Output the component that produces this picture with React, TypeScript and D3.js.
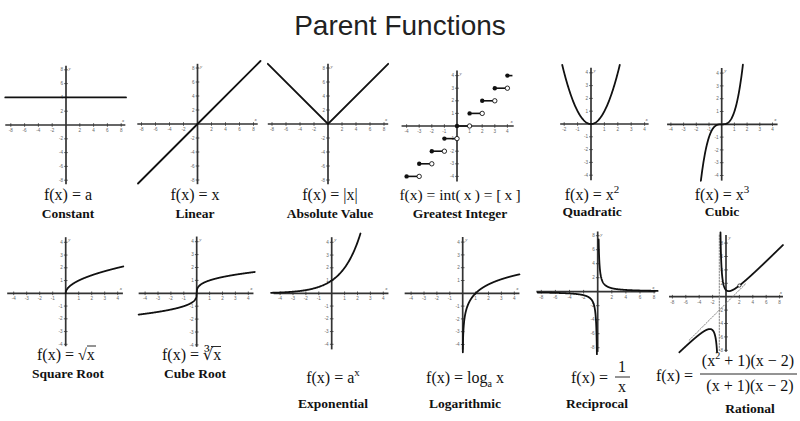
import React from 'react';
import * as d3 from 'd3';

const W = 800;
const H = 421;

// tick values used by the small graphs
const ticksWide = [-8, -6, -4, -2, 2, 4, 6, 8];
const ticksUnit = [-4, -3, -2, -1, 1, 2, 3, 4];
const ticksQuadX = [-2, -1, 1, 2, 3, 4];

// values
const constantValue = 4;
const stepLevels = [-4, -3, -2, -1, 0, 1, 2, 3];
const lastStep = 4;
const constDomain = [-8.8, 8.7];
const linearDomain = [-8.5, 9];
const absDomain = [-8.6, 8.6];
const quadDomain = [-2.15, 2.15];
const cubicDomain = [-1.64, 1.67];
const sqrtDomain = [0, 4.43];
const cbrtDomain = [-4.5, 4.5];
const expDomain = [-4.7, 2.23];
const logDomain = [0.01, 4.4];
const recipLeft = [-8.5, -0.112];
const recipRight = [0.134, 8.5];
const ratLeft = [-6.96, -1.335];
const ratRight = [-0.825, 8.5];
const ratHole = [2, 5 / 3];
const ratAsymX = -1;
const ratSlantDomain = [-5.5, 3];

type Panel = {
  ox: number; oy: number; kx: number; ky: number;
  xExt: number[]; yExt: number[];
  xTicks: number[]; yTicks: number[];
};

const panels: Panel[] = [
  { ox: 66, oy: 125, kx: 6.9, ky: 6.9, xExt: [-8.8, 8.6], yExt: [-8.6, 8.6], xTicks: ticksWide, yTicks: ticksWide },
  { ox: 197.5, oy: 124, kx: 7, ky: 7, xExt: [-8.6, 8.6], yExt: [-8.6, 8.6], xTicks: ticksWide, yTicks: ticksWide },
  { ox: 328, oy: 124, kx: 7, ky: 7, xExt: [-8.6, 8.6], yExt: [-8.6, 8.6], xTicks: ticksWide, yTicks: ticksWide },
  { ox: 457, oy: 126, kx: 12.6, ky: 12.6, xExt: [-4.4, 4.5], yExt: [-4.4, 4.4], xTicks: ticksUnit, yTicks: ticksUnit },
  { ox: 591, oy: 124, kx: 13.4, ky: 12.8, xExt: [-2.3, 4.3], yExt: [-4.4, 4.4], xTicks: ticksQuadX, yTicks: ticksUnit },
  { ox: 721.7, oy: 124.3, kx: 12.7, ky: 12.8, xExt: [-4.3, 4.4], yExt: [-4.4, 4.4], xTicks: ticksUnit, yTicks: ticksUnit },
  { ox: 65.7, oy: 293.3, kx: 13, ky: 12.75, xExt: [-4.5, 4.4], yExt: [-4.15, 4.4], xTicks: ticksUnit, yTicks: ticksUnit },
  { ox: 196.7, oy: 293.3, kx: 12.9, ky: 12.9, xExt: [-4.5, 4.4], yExt: [-4.15, 4.4], xTicks: ticksUnit, yTicks: ticksUnit },
  { ox: 331.7, oy: 293.3, kx: 12.9, ky: 12.75, xExt: [-4.5, 4.4], yExt: [-4.4, 4.4], xTicks: ticksUnit, yTicks: ticksUnit },
  { ox: 462.7, oy: 293.3, kx: 12.9, ky: 12.8, xExt: [-4.5, 4.4], yExt: [-4.4, 4.4], xTicks: ticksUnit, yTicks: ticksUnit },
  { ox: 597.7, oy: 291.7, kx: 7.05, ky: 7, xExt: [-8.7, 8.2], yExt: [-8.6, 8.6], xTicks: ticksWide, yTicks: ticksWide },
  { ox: 726, oy: 296.7, kx: 6.7, ky: 6.7, xExt: [-8.5, 8.5], yExt: [-8.2, 9.2], xTicks: ticksWide, yTicks: ticksWide },
];

const ink = '#111';
const axisColor = '#333';

function sample(f: (x: number) => number, dom: number[], n = 160): [number, number][] {
  const step = (dom[1] - dom[0]) / n;
  return d3.range(n + 1).map(i => {
    const xv = dom[0] + i * step;
    return [xv, f(xv)] as [number, number];
  });
}

function scales(p: Panel) {
  const x = d3.scaleLinear().domain([0, 1]).range([p.ox, p.ox + p.kx]);
  const y = d3.scaleLinear().domain([0, 1]).range([p.oy, p.oy - p.ky]);
  return { x, y };
}

function Axes({ p }: { p: Panel }) {
  const { x, y } = scales(p);
  const [x0, x1] = p.xExt;
  const [y0, y1] = p.yExt;
  return (
    <g>
      <line x1={x(x0)} x2={x(x1)} y1={y(0)} y2={y(0)} stroke={axisColor} strokeWidth={1.7} />
      <line x1={x(0)} x2={x(0)} y1={y(y0)} y2={y(y1)} stroke={axisColor} strokeWidth={1.7} />
      {p.xTicks.map(t => (
        <g key={'x' + t}>
          <line x1={x(t)} x2={x(t)} y1={y(0) - 1.8} y2={y(0) + 1.8} stroke={axisColor} strokeWidth={0.8} />
          <text x={x(t)} y={y(0) + 7} fontSize={4.6} textAnchor="middle" fill="#666"
            fontFamily="Liberation Sans, sans-serif">{t}</text>
        </g>
      ))}
      {p.yTicks.map(t => (
        <g key={'y' + t}>
          <line x1={x(0) - 1.8} x2={x(0) + 1.8} y1={y(t)} y2={y(t)} stroke={axisColor} strokeWidth={0.8} />
          <text x={x(0) - 3} y={y(t) + 1.6} fontSize={4.6} textAnchor="end" fill="#666"
            fontFamily="Liberation Sans, sans-serif">{t}</text>
        </g>
      ))}
      <text x={x(x1) - 1} y={y(0) - 3} fontSize={5} fill="#555" textAnchor="end"
        fontFamily="Liberation Serif, serif" fontStyle="italic">x</text>
      <text x={x(0) + 2.5} y={y(y1) + 4} fontSize={5} fill="#555"
        fontFamily="Liberation Serif, serif" fontStyle="italic">y</text>
    </g>
  );
}

function Curve({ p, pts, dash }: { p: Panel; pts: [number, number][]; dash?: string }) {
  const { x, y } = scales(p);
  const line = d3.line<[number, number]>().x(d => x(d[0])).y(d => y(d[1]));
  return <path d={line(pts) || ''} fill="none" stroke={dash ? '#777' : ink}
    strokeWidth={dash ? 0.9 : 1.8} strokeDasharray={dash} strokeLinecap="round" />;
}

function Steps({ p }: { p: Panel }) {
  const { x, y } = scales(p);
  return (
    <g>
      {stepLevels.map(k => (
        <g key={k}>
          <line x1={x(k)} x2={x(k + 1)} y1={y(k)} y2={y(k)} stroke={ink} strokeWidth={1.6} />
          <circle cx={x(k)} cy={y(k)} r={2.2} fill={ink} />
          <circle cx={x(k + 1)} cy={y(k)} r={2.2} fill="#fff" stroke={ink} strokeWidth={0.9} />
        </g>
      ))}
      <line x1={x(lastStep)} x2={x(lastStep + 0.4)} y1={y(lastStep)} y2={y(lastStep)} stroke={ink} strokeWidth={1.6} />
      <circle cx={x(lastStep)} cy={y(lastStep)} r={2.2} fill={ink} />
    </g>
  );
}

const serif = 'Liberation Serif, DejaVu Serif, serif';
const pre: React.CSSProperties = { whiteSpace: 'pre' };

function Formula({ x, y, children, anchor = 'middle', size = 16 }: { x: number; y: number; children: React.ReactNode; anchor?: string; size?: number }) {
  return <text x={x} y={y} fontSize={size} fontFamily={serif} fill={ink} textAnchor={anchor} style={pre}>{children}</text>;
}

function Label({ x, y, children }: { x: number; y: number; children: React.ReactNode }) {
  return <text x={x} y={y} fontSize={13.5} fontWeight="bold" fontFamily={serif} fill={ink} textAnchor="middle">{children}</text>;
}

export default function App() {
  const P = panels;
  const rat = scales(P[11]);
  return (
    <svg width={W} height={H} viewBox={`0 0 ${W} ${H}`} style={{ position: 'absolute', left: 0, top: 0, background: '#fff' }}>
      <rect width={W} height={H} fill="#fff" />
      <text x={400} y={35} fontSize={28} textAnchor="middle" fill="#222"
        fontFamily="Liberation Sans, Arial, sans-serif">Parent Functions</text>

      {P.map((p, i) => <Axes key={i} p={p} />)}

      {/* row 1 */}
      <Curve p={P[0]} pts={sample(() => constantValue, constDomain, 2)} />
      <Curve p={P[1]} pts={sample(v => v, linearDomain, 2)} />
      <Curve p={P[2]} pts={sample(v => Math.abs(v), absDomain, 2)} />
      <Steps p={P[3]} />
      <Curve p={P[4]} pts={sample(v => v * v, quadDomain)} />
      <Curve p={P[5]} pts={sample(v => v * v * v, cubicDomain)} />

      {/* row 2 */}
      <Curve p={P[6]} pts={sample(v => Math.sqrt(v), sqrtDomain, 300)} />
      <Curve p={P[7]} pts={sample(v => Math.cbrt(v), cbrtDomain, 400)} />
      <Curve p={P[8]} pts={sample(v => Math.pow(2, v), expDomain)} />
      <Curve p={P[9]} pts={sample(v => Math.log(v), logDomain, 600)} />
      <Curve p={P[10]} pts={sample(v => 1 / v, recipLeft, 300)} />
      <Curve p={P[10]} pts={sample(v => 1 / v, recipRight, 300)} />
      <Curve p={P[11]} pts={sample(v => v - 1, ratSlantDomain, 2)} dash="1.5,1.5" />
      <Curve p={P[11]} pts={[[ratAsymX, P[11].yExt[1]], [ratAsymX, P[11].yExt[0]]]} dash="1.5,1.5" />
      <Curve p={P[11]} pts={sample(v => (v * v + 1) / (v + 1), ratLeft, 300)} />
      <Curve p={P[11]} pts={sample(v => (v * v + 1) / (v + 1), ratRight, 300)} />
      <circle cx={rat.x(ratHole[0])} cy={rat.y(ratHole[1])} r={1.6} fill="#fff" stroke={ink} strokeWidth={0.8} />

      {/* formulas row 1 */}
      <Formula x={68} y={200}>f(x) = a</Formula>
      <Label x={68} y={218}>Constant</Label>
      <Formula x={195} y={200}>f(x) = x</Formula>
      <Label x={195} y={218}>Linear</Label>
      <Formula x={330} y={200}>f(x) = |x|</Formula>
      <Label x={330} y={218}>Absolute Value</Label>
      <Formula x={460} y={200} size={15.5}>{'f(x) = int(\u2009x\u2009) = [\u2009x\u2009]'}</Formula>
      <Label x={460} y={218}>Greatest Integer</Label>
      <Formula x={592} y={200}>f(x) = x<tspan dy={-7} fontSize={11}>2</tspan></Formula>
      <Label x={592} y={216}>Quadratic</Label>
      <Formula x={722} y={200}>f(x) = x<tspan dy={-7} fontSize={11}>3</tspan></Formula>
      <Label x={722} y={216}>Cubic</Label>

      {/* formulas row 2 */}
      <Formula x={37} y={360} anchor="start">f(x) = √x</Formula>
      <line x1={87} x2={96} y1={346} y2={346} stroke={ink} strokeWidth={0.9} />
      <Label x={68} y={378}>Square Root</Label>

      <Formula x={162} y={360} anchor="start">f(x) = ∛x</Formula>
      <line x1={211} x2={221} y1={346.5} y2={346.5} stroke={ink} strokeWidth={0.9} />
      <Label x={195} y={378}>Cube Root</Label>

      <Formula x={333} y={383}>f(x) = a<tspan dy={-7} fontSize={11}>x</tspan></Formula>
      <Label x={333} y={408}>Exponential</Label>

      <Formula x={465} y={383}>f(x) = log<tspan dy={4} fontSize={10}>a</tspan><tspan dy={-4}> x</tspan></Formula>
      <Label x={465} y={408}>Logarithmic</Label>

      <Formula x={612} y={383} anchor="end">f(x) = </Formula>
      <text x={622} y={372} fontSize={16} fontFamily={serif} fill={ink} textAnchor="middle">1</text>
      <line x1={615} x2={630} y1={377} y2={377} stroke={ink} strokeWidth={0.9} />
      <text x={622} y={392} fontSize={16} fontFamily={serif} fill={ink} textAnchor="middle">x</text>
      <Label x={597} y={408}>Reciprocal</Label>

      <Formula x={697} y={381} anchor="end">f(x) = </Formula>
      <text x={748} y={366} fontSize={16} fontFamily={serif} fill={ink} textAnchor="middle" style={pre}>(x<tspan dy={-7} fontSize={10}>2</tspan><tspan dy={7}> + 1)(x − 2)</tspan></text>
      <line x1={700} x2={797} y1={374} y2={374} stroke={ink} strokeWidth={0.9} />
      <text x={750} y={391} fontSize={16} fontFamily={serif} fill={ink} textAnchor="middle" style={pre}>(x + 1)(x − 2)</text>
      <Label x={750} y={413}>Rational</Label>
    </svg>
  );
}
